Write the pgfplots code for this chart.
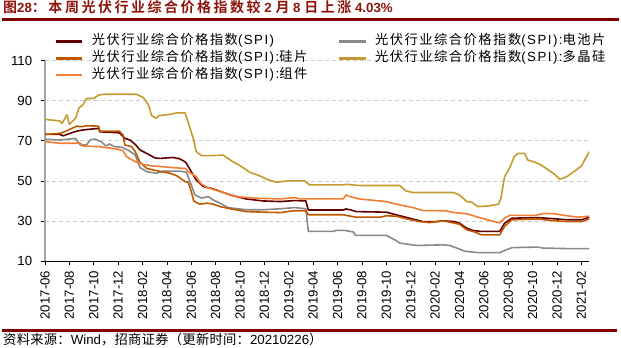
\documentclass[border=0pt]{standalone}
\usepackage{pgfplots}
\pgfplotsset{compat=1.18}
\usepackage{fontspec}
\setmainfont{Liberation Sans}
\newfontfamily\cjk[LetterSpace=2]{Noto Sans CJK SC}
\newfontfamily\lgcjk[LetterSpace=11]{Noto Sans CJK SC}
\newfontfamily\lglat[LetterSpace=11]{Liberation Sans}
\newfontfamily\tcjk[LetterSpace=18]{Noto Sans CJK SC Bold}
\newfontfamily\tlat{Liberation Sans Bold}
\definecolor{cspi}{RGB}{96,0,0}
\definecolor{ccell}{RGB}{137,137,137}
\definecolor{cwafer}{RGB}{192,88,0}
\definecolor{cpoly}{RGB}{196,155,48}
\definecolor{cmod}{RGB}{242,125,50}
\definecolor{ctitle}{RGB}{140,20,10}
\definecolor{cline}{RGB}{128,0,0}
\begin{document}
\begin{tikzpicture}
\useasboundingbox (0,0) rectangle (621bp,348bp);
\begin{axis}[
  at={(45bp,86.9bp)}, anchor=south west,
  scale only axis, width=544.3bp, height=200.5bp,
  xmin=0, xmax=44.65, ymin=10, ymax=110,
  axis x line*=bottom, axis y line*=left,
  x axis line style={black, line width=0.8bp, -},
  y axis line style={black!35, line width=1.4bp, -},
  ytick={10,30,50,70,90,110},
  xtick={0,2,...,44},
  xticklabels={2017-06,2017-08,2017-10,2017-12,2018-02,2018-04,2018-06,2018-08,2018-10,2018-12,2019-02,2019-04,2019-06,2019-08,2019-10,2019-12,2020-02,2020-04,2020-06,2020-08,2020-10,2020-12,2021-02},
  tick align=outside,
  major tick length=4bp,
  tick style={black, line width=0.7bp},
  ymajorgrids,
  grid style={black!20, line width=0.6bp, dash pattern=on 4bp off 3bp},
  /pgf/number format/assume math mode=true,
  ticklabel style={font=\fontsize{13.2bp}{15bp}\selectfont},
  xticklabel style={rotate=90, anchor=east, inner sep=0pt, xshift=-5.6bp},
  yticklabel style={anchor=east, inner sep=0pt, xshift=-8.7bp},
  legend columns=2,
  legend cell align=left,
  legend style={draw=none, fill=none, inner sep=0pt, outer sep=0pt,
    at={(0.017,1.1257)}, anchor=north west,
    font=\fontsize{13.3bp}{16bp}\selectfont,
    row sep=4bp, column sep=0bp,
    nodes={inner sep=0pt, text height=9.5bp, text depth=3.2bp},
    /tikz/every odd column/.append style={column sep=8.3bp}},
  legend image code/.code={\draw[#1, line width=2.6bp] (0bp,0bp) -- (26.7bp,0bp);},
  every axis plot/.append style={line width=1.6bp, line join=round, mark=none},
]
\addplot[cspi] coordinates {
(0,73.2)(1.2,73.2)(1.5,72.5)(2.05,73.7)(2.6,74.8)(3.0,75.3)(3.4,75.6)(4.4,76.2)(4.5,74.5)(6.1,74.0)(6.55,71.2)(6.97,70.4)(7.4,68.2)(7.8,65.4)(8.35,63.7)(9.0,61.5)(9.4,61.2)(10.5,61.7)(11.05,61.0)(11.5,59.5)(11.6,58.8)(12.0,54.6)(12.4,50.5)(12.98,47.2)(13.8,46.0)(15.2,43.0)(16.5,41.0)(17.9,40.0)(19.3,39.7)(20.5,40.2)(21.4,40.0)(21.6,35.5)(22.54,35.5)(24.45,35.5)(24.7,36.0)(25.1,35.5)(25.5,34.7)(28.0,34.4)(28.8,33.1)(29.9,31.4)(31.0,29.7)(32.1,29.7)(32.65,30.1)(33.6,29.7)(34.0,28.9)(34.6,26.4)(35.1,25.3)(35.8,24.8)(37.3,24.8)(37.7,28.9)(38.3,31.4)(40.4,31.7)(41.8,31.1)(42.9,30.6)(44.0,30.6)(44.65,31.9)};
\addlegendentry{\makebox[245.7bp][l]{\lgcjk 光伏行业综合价格指数\lglat (SPI)}}
\addplot[ccell] coordinates {
(0,70.8)(1.2,70.4)(2.05,70.9)(2.5,71.2)(2.9,67.9)(3.4,67.9)(3.7,70.4)(4.1,70.9)(4.6,69.6)(5.0,67.4)(5.3,68.4)(5.7,67.1)(6.3,66.8)(6.8,65.4)(7.4,62.9)(7.8,56.6)(8.35,54.6)(9.15,53.8)(9.7,54.9)(11.05,54.9)(11.6,54.3)(11.9,49.6)(12.3,43.0)(12.85,41.4)(13.4,42.2)(13.8,40.5)(14.35,38.9)(15.0,36.7)(16.5,35.6)(17.9,35.6)(19.3,36.1)(20.5,36.7)(21.4,36.1)(21.6,24.8)(23.6,24.8)(23.9,25.3)(24.6,25.3)(25.3,24.5)(25.5,22.8)(28.0,22.8)(28.7,20.6)(29.1,19.0)(29.65,18.5)(30.5,17.8)(32.65,18.1)(33.2,17.8)(33.65,16.8)(34.4,15.0)(35.5,14.2)(37.3,14.2)(37.7,15.3)(38.3,16.7)(40.4,17.0)(40.85,16.5)(43.2,16.2)(44.65,16.2)};
\addlegendentry{\lgcjk 光伏行业综合价格指数\lglat (SPI):\lgcjk 电池片}
\addplot[cwafer] coordinates {
(0,73.2)(1.2,73.7)(1.6,74.5)(2.2,76.2)(2.6,77.3)(3.0,77.0)(3.4,77.5)(4.4,77.3)(4.5,74.8)(6.1,74.8)(6.4,72.9)(6.55,67.9)(7.1,67.1)(7.4,64.6)(7.8,59.2)(8.35,56.2)(9.3,54.9)(10.25,53.8)(10.8,52.6)(11.5,49.6)(11.75,49.4)(12.0,44.7)(12.2,40.0)(12.7,38.4)(13.3,38.9)(13.8,38.4)(14.35,37.2)(15.2,36.1)(16.5,34.7)(17.9,34.4)(19.3,34.2)(20.4,35.1)(21.4,35.1)(21.6,33.1)(22.54,33.1)(24.45,33.1)(25.5,31.9)(27.5,31.9)(28.0,32.6)(28.8,32.4)(29.65,31.1)(30.7,29.7)(31.55,29.2)(32.65,30.1)(33.6,28.9)(34.0,28.4)(34.6,25.6)(35.25,24.5)(35.8,23.1)(37.3,23.1)(37.7,27.3)(38.3,30.6)(40.4,31.0)(41.8,30.1)(42.9,29.7)(44.0,29.7)(44.65,31.1)};
\addlegendentry{\makebox[245.7bp][l]{\lgcjk 光伏行业综合价格指数\lglat (SPI):\lgcjk 硅片}}
\addplot[cpoly] coordinates {
(0,80.7)(1.2,79.9)(1.4,78.7)(1.8,82.9)(2.0,78.2)(2.5,81.2)(2.8,86.5)(3.1,87.8)(3.4,91.1)(4.0,91.1)(4.4,92.8)(4.8,93.2)(7.5,93.2)(8.06,91.6)(8.5,87.8)(8.75,82.5)(9.15,81.2)(9.3,82.5)(10.25,83.2)(10.8,83.9)(11.5,83.9)(11.9,76.2)(12.2,70.4)(12.4,64.6)(12.85,62.6)(13.7,62.6)(14.6,62.9)(15.4,59.6)(16.0,57.6)(16.8,54.3)(17.6,52.6)(18.2,50.8)(19.0,49.3)(19.8,50.0)(21.3,50.0)(21.7,48.0)(24.45,48.0)(24.7,48.3)(25.8,47.7)(29.1,47.7)(29.6,45.0)(30.2,44.2)(33.5,44.2)(34.0,43.0)(34.6,39.7)(35.0,39.4)(35.5,37.2)(36.35,37.5)(37.2,38.4)(37.4,41.4)(37.7,52.1)(38.1,56.3)(38.5,62.1)(38.8,63.7)(39.35,63.7)(39.6,60.4)(40.2,59.3)(40.7,57.9)(41.3,55.4)(41.8,53.3)(42.2,50.8)(42.8,52.1)(43.45,54.9)(44.0,57.4)(44.65,64.6)};
\addlegendentry{\lgcjk 光伏行业综合价格指数\lglat (SPI):\lgcjk 多晶硅}
\addplot[cmod] coordinates {
(0,69.6)(1.2,68.8)(2.9,68.8)(3.1,67.4)(4.4,67.1)(5.9,65.9)(6.4,65.1)(6.7,62.1)(7.4,59.6)(8.06,58.2)(8.9,57.4)(9.7,57.1)(10.5,56.6)(11.5,56.2)(11.75,54.6)(12.4,52.1)(12.75,48.8)(13.3,46.7)(14.35,44.7)(15.7,42.2)(17.1,41.4)(19.3,41.0)(20.5,41.7)(20.9,41.0)(24.45,41.0)(24.7,43.0)(25.0,42.2)(25.8,41.0)(26.6,40.5)(28.0,39.7)(28.8,38.4)(30.2,36.7)(31.0,35.2)(32.9,35.1)(33.3,34.4)(34.6,33.6)(35.8,31.4)(36.5,30.3)(37.3,29.1)(37.7,31.4)(38.1,32.8)(40.2,32.8)(41.0,33.8)(41.8,33.6)(42.6,32.8)(43.7,31.9)(44.65,32.4)};
\addlegendentry{\makebox[245.7bp][l]{\lgcjk 光伏行业综合价格指数\lglat (SPI):\lgcjk 组件}}
\end{axis}
\node[anchor=base west, inner sep=0pt, text=ctitle] at (3bp,335.3bp)
  {\fontsize{14bp}{16bp}\tcjk 图\fontsize{13.3bp}{16bp}\tlat 28\fontsize{14bp}{16bp}\tcjk ：本周光伏行业综合价格指数较\fontsize{13.3bp}{16bp}\tlat{} 2 \fontsize{14bp}{16bp}\tcjk 月\fontsize{13.3bp}{16bp}\tlat{} 8 \fontsize{14bp}{16bp}\tcjk 日上涨\fontsize{13.3bp}{16bp}\tlat{} 4.03\%};
\draw[cline, line width=3bp] (2bp,328.8bp) -- (619bp,328.8bp);
\draw[cline, line width=2.4bp] (2bp,17.3bp) -- (617bp,17.3bp);
\node[anchor=base west, inner sep=0pt] at (3bp,3.7bp)
  {\fontsize{13.3bp}{16bp}\cjk 资料来源：\selectfont\rmfamily Wind\cjk ，招商证券（更新时间：\rmfamily 20210226\cjk ）};
\end{tikzpicture}
\end{document}
